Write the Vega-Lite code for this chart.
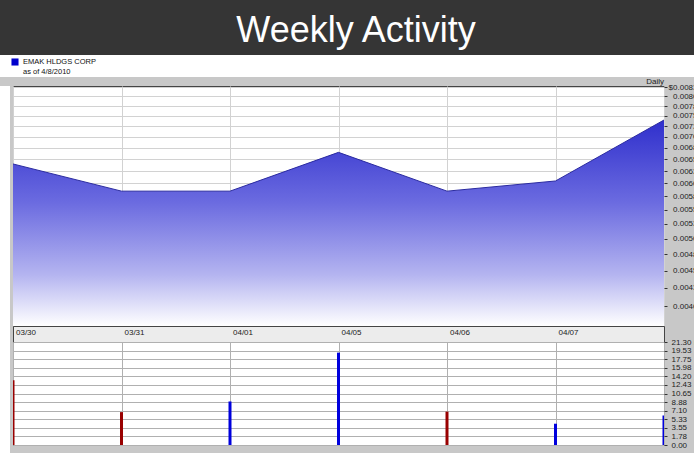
{
  "$schema": "https://vega.github.io/schema/vega-lite/v6.json",
  "background": "#c8c8c8",
  "padding": 0,
  "spacing": 0,
  "config": {"font": "Liberation Sans", "view": {"stroke": null}, "concat": {"spacing": 0}},
  "datasets": {
    "daily": [
      {"date": "03/30", "price": 0.0064, "volume": 13.4, "dir": "down"},
      {"date": "03/31", "price": 0.00585, "volume": 6.8, "dir": "down"},
      {"date": "04/01", "price": 0.00585, "volume": 9.0, "dir": "up"},
      {"date": "04/05", "price": 0.00665, "volume": 19.1, "dir": "up"},
      {"date": "04/06", "price": 0.00585, "volume": 6.9, "dir": "down"},
      {"date": "04/07", "price": 0.00605, "volume": 4.4, "dir": "up"},
      {"date": "04/08", "price": 0.0074, "volume": 6.1, "dir": "up"}
    ]
  },
  "resolve": {"scale": {"color": "independent"}, "legend": {"color": "independent"}},
  "vconcat": [
    {
      "width": 694,
      "height": 55,
      "view": {"fill": "#353535", "stroke": null},
      "data": {"values": [{"title": "Weekly Activity"}]},
      "mark": {"type": "text", "color": "white", "fontSize": 36, "baseline": "middle", "align": "center", "dx": 9, "dy": 3},
      "encoding": {"text": {"field": "title"}}
    },
    {
      "width": 694,
      "height": 22,
      "view": {"fill": "white", "stroke": null},
      "data": {"values": [{"series": "EMAK HLDGS CORP"}, {"series": "as of 4/8/2010"}]},
      "mark": {"type": "square", "filled": true, "opacity": 0},
      "encoding": {
        "color": {
          "field": "series",
          "type": "nominal",
          "scale": {"domain": ["EMAK HLDGS CORP", "as of 4/8/2010"], "range": ["#0000cc", "rgba(0,0,0,0)"]},
          "legend": {
            "orient": "none", "legendX": 11, "legendY": 3, "title": null,
            "symbolType": "square", "symbolSize": 50, "symbolOpacity": 1, "symbolStrokeWidth": 0,
            "labelFontSize": 7.5, "labelColor": "#111", "labelOffset": 4, "rowPadding": 1.5, "padding": 0
          }
        }
      }
    },
    {
      "spacing": 0,
      "hconcat": [
        {
          "width": 10,
          "height": 368,
          "view": {"fill": "white", "stroke": null},
          "data": {"values": [{"a": 1}]},
          "mark": {"type": "point", "opacity": 0},
          "encoding": {}
        },
        {
          "spacing": 0,
          "bounds": "flush",
          "resolve": {"scale": {"x": "independent", "y": "independent"}},
          "vconcat": [
            {
              "width": 651,
              "height": 240,
              "data": {"name": "daily"},
              "title": {"text": "Daily", "anchor": "end", "fontSize": 8, "fontWeight": "normal", "color": "#222", "offset": -3, "frame": "group"},
              "view": {"fill": "white", "stroke": "#444", "strokeWidth": 1},
              "encoding": {
                "x": {
                  "field": "date", "type": "ordinal",
                  "scale": {"type": "point", "padding": 0, "domain": ["03/30", "03/31", "04/01", "04/05", "04/06", "04/07", "04/08"]},
                  "axis": {"orient": "bottom", "labels": false, "ticks": false, "domain": false, "grid": true, "gridColor": "#d2d2d2", "title": null}
                },
                "y": {
                  "field": "price", "type": "quantitative",
                  "scale": {"type": "log", "domain": [0.003747, 0.00828], "nice": false, "zero": false},
                  "axis": {
                    "orient": "right",
                    "values": [0.004, 0.00425, 0.0045, 0.00475, 0.005, 0.00525, 0.0055, 0.00575, 0.006, 0.00625, 0.0065, 0.00675, 0.007, 0.00725, 0.0075, 0.00775, 0.008, 0.00825],
                    "labelExpr": "(datum.value > 0.0082 ? '$' : '') + format(datum.value + 1e-9, '.4f')",
                    "grid": true, "gridColor": "#d2d2d2", "tickSize": 3, "tickColor": "#333", "domain": false,
                    "labelAlign": "right", "labelPadding": 30, "labelFontSize": 8, "labelColor": "#222",
                    "title": null, "labelOverlap": false, "labelBound": false
                  }
                }
              },
              "layer": [
                {
                  "mark": {
                    "type": "area",
                    "color": {
                      "gradient": "linear", "x1": 0, "y1": 0, "x2": 0, "y2": 1,
                      "stops": [
                        {"offset": 0, "color": "#2f2fcc"},
                        {"offset": 0.4, "color": "#6b6be0"},
                        {"offset": 0.75, "color": "#b4b4f0"},
                        {"offset": 1, "color": "#ffffff"}
                      ]
                    }
                  },
                  "encoding": {"y2": {"datum": 0.003747}}
                },
                {"mark": {"type": "line", "color": "#2a2aa0", "strokeWidth": 1}}
              ]
            },
            {
              "width": 651,
              "height": 16,
              "data": {"name": "daily"},
              "transform": [{"filter": "datum.date != '04/08'"}],
              "view": {"fill": "#ececec", "stroke": "#444"},
              "mark": {"type": "text", "align": "left", "baseline": "middle", "dx": 3, "dy": -1, "fontSize": 8, "color": "#222"},
              "encoding": {
                "x": {
                  "field": "date", "type": "ordinal",
                  "scale": {"type": "point", "padding": 0, "domain": ["03/30", "03/31", "04/01", "04/05", "04/06", "04/07", "04/08"]},
                  "axis": null
                },
                "text": {"field": "date"}
              }
            },
            {
              "width": 651,
              "height": 103,
              "data": {"name": "daily"},
              "view": {"fill": "white", "stroke": "#444"},
              "mark": {"type": "bar", "size": 3, "clip": true},
              "encoding": {
                "x": {
                  "field": "date", "type": "ordinal",
                  "scale": {"type": "point", "padding": 0, "domain": ["03/30", "03/31", "04/01", "04/05", "04/06", "04/07", "04/08"]},
                  "axis": {"orient": "bottom", "labels": false, "ticks": false, "domain": false, "grid": true, "gridColor": "#b0b0b0", "title": null}
                },
                "y": {
                  "field": "volume", "type": "quantitative",
                  "scale": {"domain": [0, 21.3], "nice": false},
                  "axis": {
                    "orient": "right",
                    "values": [0, 1.775, 3.55, 5.325, 7.1, 8.875, 10.65, 12.425, 14.2, 15.975, 17.75, 19.525, 21.3],
                    "labelExpr": "format(datum.value + 1e-6, '.2f') + (datum.value > 21 ? ' M' : '')",
                    "grid": true, "gridColor": "#b0b0b0", "tickSize": 3, "tickColor": "#333", "domain": false,
                    "labelPadding": 4, "labelFontSize": 8, "labelColor": "#222", "title": null,
                    "labelOverlap": false, "labelBound": false
                  }
                },
                "color": {"condition": {"test": "datum.dir == 'down'", "value": "#990000"}, "value": "#0000dd"}
              }
            }
          ]
        }
      ]
    },
    {
      "width": 694,
      "height": 8,
      "view": {"fill": "white", "stroke": null},
      "data": {"values": [{"s": "Vol"}]},
      "mark": {"type": "square", "filled": true, "opacity": 0},
      "encoding": {
        "color": {
          "field": "s", "type": "nominal",
          "scale": {"range": ["#0000cc"]},
          "legend": {
            "orient": "none", "legendX": 623, "legendY": -4, "title": null,
            "symbolType": "square", "symbolSize": 50, "symbolOpacity": 1, "symbolStrokeWidth": 0,
            "labelFontSize": 7.5, "labelColor": "#111", "padding": 0
          }
        }
      }
    }
  ]
}
